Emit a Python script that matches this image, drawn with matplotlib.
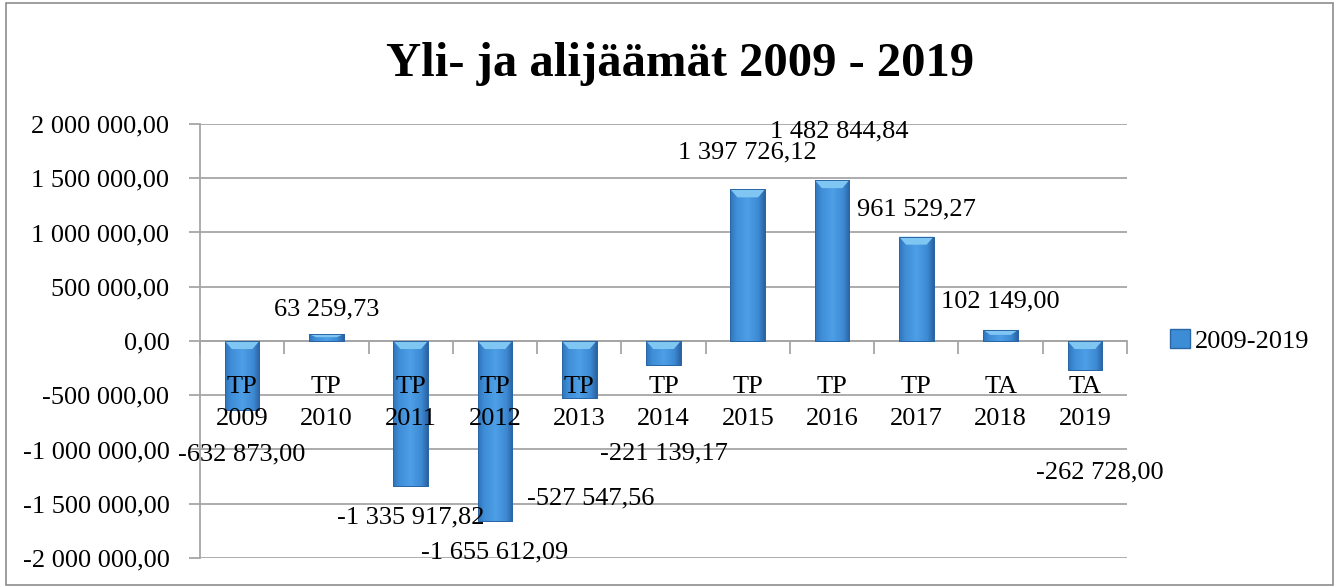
import matplotlib
matplotlib.use("Agg")
import matplotlib.pyplot as plt
import numpy as np
from matplotlib.patches import Rectangle, Polygon
from matplotlib.colors import LinearSegmentedColormap
from matplotlib.ticker import FuncFormatter, MultipleLocator

# ---- data ----
PREFIX = ["TP", "TP", "TP", "TP", "TP", "TP", "TP", "TP", "TP", "TA", "TA"]
YEARS = ["2009", "2010", "2011", "2012", "2013", "2014", "2015", "2016", "2017", "2018", "2019"]
VALUES = [-632873.00, 63259.73, -1335917.82, -1655612.09, -527547.56, -221139.17,
          1397726.12, 1482844.84, 961529.27, 102149.00, -262728.00]
SERIES = "2009-2019"
TITLE = "Yli- ja alijäämät 2009 - 2019"

# data-label placement (manually moved labels in the original)
LABEL_DX = [-0.01, 0, 0, 0, 0.14, 0, 0, 0.08, 0, 0, 0.18]
LABEL_Y = [-1.05e6, 0.29e6, -1.63e6, -1.95e6, -1.45e6, -1.04e6,
           1.74e6, 1.93e6, 1.21e6, 0.36e6, -1.21e6]

FONT = ["Liberation Serif", "DejaVu Serif"]
FS = 19
GRID = "#a6a6a6"

plt.rcParams["font.family"] = FONT


def fmt(v, _=None):
    return f"{v:,.2f}".replace(",", " ").replace(".", ",")


fig = plt.figure(figsize=(13.43, 5.87), dpi=100)
ax = fig.add_axes([200 / 1343, 1 - 558 / 587, 927 / 1343, 434 / 587])
YMIN, YMAX = -2e6, 2e6
ax.set_xlim(-0.5, len(VALUES) - 0.5)
ax.set_ylim(YMIN, YMAX)

# pixel -> data scale, for the bevel on each bar
dx_px = len(VALUES) / 927.0
dy_px = (YMAX - YMIN) / 434.0

cmap = LinearSegmentedColormap.from_list(
    "bar", [(0, "#2e74bc"), (0.18, "#3f8ed7"), (0.5, "#4d9fe6"), (0.82, "#3d8ad3"), (1, "#2a62a2")])
grad = np.linspace(0, 1, 64).reshape(1, -1)

w = 0.41
for yv in np.arange(YMIN, YMAX + 1, 5e5):
    ax.axhline(yv, color=GRID, lw=1.3, zorder=0.2)

x = np.arange(len(VALUES))
bars = ax.bar(x, VALUES, width=w, color="#3d8dd6", edgecolor="#2a66a6", linewidth=0.6, zorder=1)
for b, v in zip(bars, VALUES):
    x0, x1 = b.get_x(), b.get_x() + b.get_width()
    lo, hi = min(0, v), max(0, v)
    im = ax.imshow(grad, cmap=cmap, extent=[x0, x1, lo, hi], aspect="auto",
                   interpolation="bicubic", zorder=1.1)
    im.set_clip_path(b)
    # light bevel along the top edge
    bh = min(8 * dy_px, (hi - lo) * 0.45)
    bi = 7 * dx_px
    ax.add_patch(Polygon([[x0, hi], [x1, hi], [x1 - bi, hi - bh], [x0 + bi, hi - bh]],
                         closed=True, facecolor="#80c6f2", edgecolor="none", zorder=1.2))
    ax.add_patch(Rectangle((x0, lo), x1 - x0, hi - lo, fill=False, edgecolor="#2a66a6",
                           linewidth=0.7, zorder=1.3))

ax.set_xlim(-0.5, len(VALUES) - 0.5)
ax.set_ylim(YMIN, YMAX)

# data labels
for i, v in enumerate(VALUES):
    ax.text(i + LABEL_DX[i], LABEL_Y[i], fmt(v), ha="center", va="center", fontsize=FS, zorder=5)

# axes styling
for s in ["top", "right"]:
    ax.spines[s].set_visible(False)
ax.spines["left"].set_color(GRID)
ax.spines["left"].set_linewidth(1.3)
ax.spines["bottom"].set_position(("data", 0))
ax.spines["bottom"].set_color(GRID)
ax.spines["bottom"].set_linewidth(1.3)
ax.spines["bottom"].set_zorder(0.3)

ax.yaxis.set_major_locator(MultipleLocator(5e5))
ax.yaxis.set_major_formatter(FuncFormatter(fmt))
ax.tick_params(axis="y", direction="out", length=8, width=1.3, color=GRID, pad=14, labelsize=FS)

ax.set_xticks(x)
ax.set_xticklabels([f"{p}\n{y}" for p, y in zip(PREFIX, YEARS)], linespacing=1.6)
ax.tick_params(axis="x", which="major", length=0, pad=25, labelsize=FS)
ax.set_xticks(np.arange(-0.5, len(VALUES)), minor=True)
ax.tick_params(axis="x", which="minor", direction="out", length=9, width=1.3, color=GRID)
for t in ax.get_xticklabels():
    t.set_zorder(6)

# legend
leg_handle = Rectangle((0, 0), 1, 1, facecolor="#3d8dd6", edgecolor="#2a66a6")
fig.legend([leg_handle], [SERIES], loc="center left", bbox_to_anchor=(1146 / 1343, 1 - 341 / 587),
           frameon=False, fontsize=FS, handlelength=0.75, handleheight=0.75, handletextpad=0.2)

fig.text(680 / 1343, 1 - 64 / 587, TITLE, ha="center", va="center", fontsize=35, fontweight="bold")

fig.patches.append(Rectangle((6 / 1343, 2 / 587), 1327 / 1343, 582 / 587, transform=fig.transFigure,
                             fill=False, edgecolor="#8c8c8c", linewidth=1.2))

fig.savefig("out.png", dpi=100)
